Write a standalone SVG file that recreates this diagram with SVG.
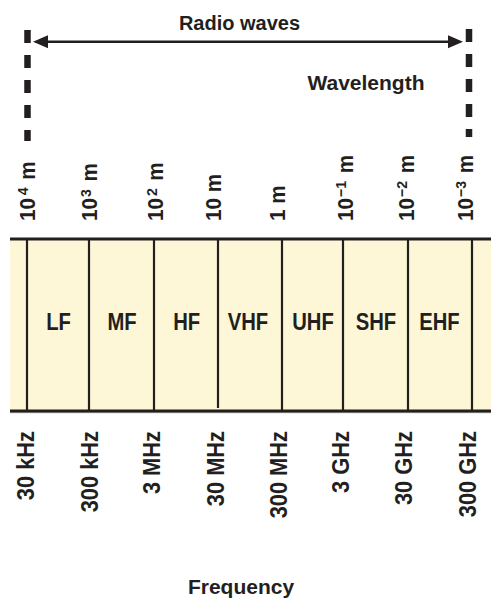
<svg xmlns="http://www.w3.org/2000/svg" width="491" height="602" viewBox="0 0 491 602">
<style>
text{font-family:"Liberation Sans",Arial,sans-serif;font-weight:bold;fill:#231f20}
.title{font-size:20px;text-anchor:middle}
.band{font-size:23px;text-anchor:middle}
.wl{font-size:22px}
.sup{font-size:15px}
.fq{font-size:24px;text-anchor:end}
.div{stroke:#231f20;stroke-width:2.2}
.edge{stroke:#231f20;stroke-width:3}
.dash{stroke:#231f20;stroke-width:6.5;stroke-dasharray:13 12}
.arrow{stroke:#231f20;stroke-width:2.5;fill:none}
</style>
<defs>
<marker id="ah" markerUnits="userSpaceOnUse" markerWidth="16" markerHeight="14" refX="3" refY="6.5" orient="auto-start-reverse">
<path d="M0,0 L15,6.5 L0,13 z" fill="#231f20"/>
</marker>
</defs>
<rect width="491" height="602" fill="#ffffff"/>

<g id="titles">
<text class="title" x="239.5" y="30">Radio waves</text>
<text class="title" x="366" y="89.5" style="font-size:21px">Wavelength</text>
<text class="title" x="241" y="594" style="font-size:21px">Frequency</text>
</g>

<g id="connectors">
<line class="dash" x1="27.5" y1="30" x2="27.5" y2="141"/>
<line class="dash" x1="469" y1="29" x2="469" y2="137"/>
<line class="arrow" x1="45" y1="41.7" x2="451" y2="41.7" marker-start="url(#ah)" marker-end="url(#ah)"/>
</g>

<g id="spectrum">
<rect x="10" y="239" width="481" height="172" fill="#fdf7d8"/>
<line x1="10" y1="412.5" x2="491" y2="412.5" stroke="#bdbab0" stroke-width="1.5"/>
<line class="div" x1="27" y1="239" x2="27" y2="411"/>
<line class="div" x1="89" y1="239" x2="89" y2="411"/>
<line class="div" x1="154" y1="239" x2="154" y2="411"/>
<line class="div" x1="218" y1="239" x2="218" y2="408"/>
<line class="div" x1="282" y1="239" x2="282" y2="411"/>
<line class="div" x1="343" y1="239" x2="343" y2="411"/>
<line class="div" x1="408" y1="239" x2="408" y2="411"/>
<line class="div" x1="472" y1="239" x2="472" y2="411"/>
<line class="edge" x1="10" y1="239" x2="491" y2="239"/>
<line class="edge" x1="10" y1="411" x2="491" y2="411"/>
</g>

<g id="band-LF"><text class="band" transform="translate(58.5,329.5) scale(0.88,1)">LF</text></g>
<g id="band-MF"><text class="band" transform="translate(122,329.5) scale(0.88,1)">MF</text></g>
<g id="band-HF"><text class="band" transform="translate(186.7,329.5) scale(0.88,1)">HF</text></g>
<g id="band-VHF"><text class="band" transform="translate(248,329.5) scale(0.88,1)">VHF</text></g>
<g id="band-UHF"><text class="band" transform="translate(313,329.5) scale(0.88,1)">UHF</text></g>
<g id="band-SHF"><text class="band" transform="translate(376,329.5) scale(0.88,1)">SHF</text></g>
<g id="band-EHF"><text class="band" transform="translate(439.5,329.5) scale(0.88,1)">EHF</text></g>

<g id="wavelengths">
<text class="wl" transform="translate(35,221) rotate(-90) scale(0.94,1)">10<tspan class="sup" dx="3" dy="-7">4</tspan><tspan dx="2" dy="7"> m</tspan></text>
<text class="wl" transform="translate(97,221) rotate(-90) scale(0.94,1)">10<tspan class="sup" dx="1" dy="-6">3</tspan><tspan dx="2" dy="6"> m</tspan></text>
<text class="wl" transform="translate(163,221) rotate(-90) scale(0.94,1)">10<tspan class="sup" dx="2" dy="-6">2</tspan><tspan dx="2" dy="6"> m</tspan></text>
<text class="wl" transform="translate(221,221) rotate(-90) scale(0.94,1)">10 m</text>
<text class="wl" transform="translate(285,221) rotate(-90) scale(0.94,1)">1 m</text>
<text class="wl" transform="translate(352.5,221) rotate(-90) scale(0.94,1)">10<tspan class="sup" dx="1" dy="-7">−1</tspan><tspan dx="2" dy="7"> m</tspan></text>
<text class="wl" transform="translate(414,221) rotate(-90) scale(0.94,1)">10<tspan class="sup" dx="1" dy="-7">−2</tspan><tspan dx="2" dy="7"> m</tspan></text>
<text class="wl" transform="translate(473,221) rotate(-90) scale(0.94,1)">10<tspan class="sup" dx="1" dy="-7">−3</tspan><tspan dx="2" dy="7"> m</tspan></text>
</g>

<g id="frequencies">
<text class="fq" transform="translate(33.5,431) rotate(-90) scale(0.91,1)">30 kHz</text>
<text class="fq" transform="translate(97.5,431) rotate(-90) scale(0.91,1)">300 kHz</text>
<text class="fq" transform="translate(159.5,431) rotate(-90) scale(0.91,1)">3 MHz</text>
<text class="fq" transform="translate(223.5,431) rotate(-90) scale(0.91,1)">30 MHz</text>
<text class="fq" transform="translate(286.5,431) rotate(-90) scale(0.91,1)">300 MHz</text>
<text class="fq" transform="translate(348.5,431) rotate(-90) scale(0.91,1)">3 GHz</text>
<text class="fq" transform="translate(411.5,431) rotate(-90) scale(0.91,1)">30 GHz</text>
<text class="fq" transform="translate(475.5,431) rotate(-90) scale(0.91,1)">300 GHz</text>
</g>
</svg>
